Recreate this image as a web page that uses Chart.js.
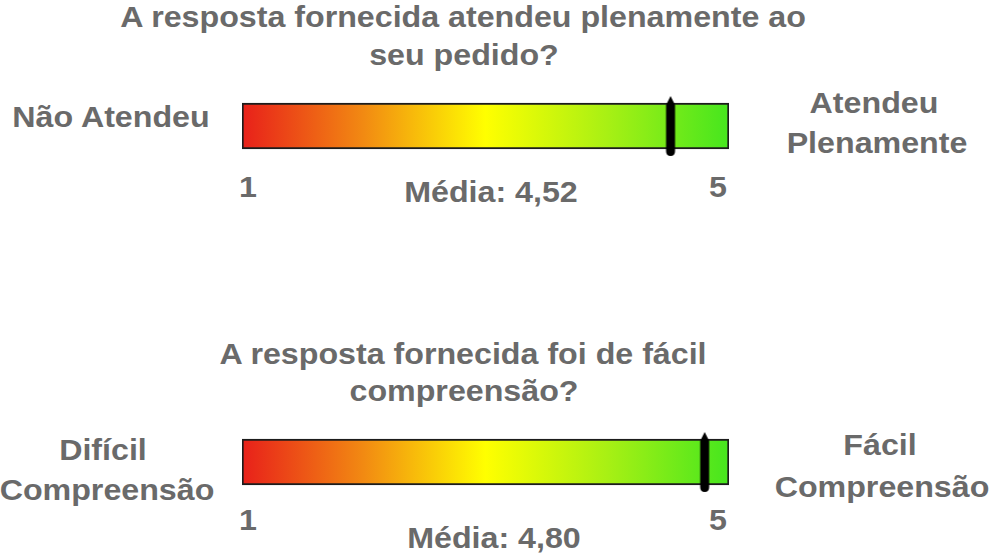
<!DOCTYPE html>
<html>
<head>
<meta charset="utf-8">
<script src="https://cdn.jsdelivr.net/npm/chart.js@4"></script>
<style>
  body { margin: 0; background: #fff; }
  #page { position: relative; width: 996px; height: 554px; overflow: hidden; font-family: "Liberation Sans", Arial, sans-serif; }
  .box { position: absolute; }
  .txt { position: absolute; white-space: nowrap; color: #6a6a6a; font-weight: bold; font-size: 29px; line-height: 29px; }
</style>
</head>
<body>
<div id="page"></div>
<script>
// Data
var titleLines = [
    ['A resposta fornecida atendeu plenamente ao', 'seu pedido?'],
    ['A resposta fornecida foi de fácil', 'compreensão?']
];
var lowLabels = [['Não Atendeu'], ['Difícil', 'Compreensão']];
var highLabels = [['Atendeu', 'Plenamente'], ['Fácil', 'Compreensão']];
var averages = [4.52, 4.80];
var scaleRange = [1, 5];
var tickLabels = ['1', '5'];

var page = document.getElementById('page');

// put a text line with its centre x and baseline y
function addText(str, cx, baseline) {
    var d = document.createElement('div');
    d.className = 'txt';
    d.textContent = str;
    d.style.left = cx + 'px';
    d.style.top = (baseline - 0.8305 * 29) + 'px';
    d.style.transform = 'translateX(-50%) scaleX(1.11)';
    page.appendChild(d);
}

// black marker with a small tip, used as point style
function makeMarker() {
    var c = document.createElement('canvas');
    c.width = 12; c.height = 60;
    var g = c.getContext('2d');
    g.fillStyle = '#000';
    g.beginPath();
    g.moveTo(6, 0);
    g.lineTo(10.5, 9);
    g.lineTo(10.5, 55);
    g.quadraticCurveTo(10.5, 60, 6, 60);
    g.quadraticCurveTo(1.5, 60, 1.5, 55);
    g.lineTo(1.5, 9);
    g.closePath();
    g.fill();
    return c;
}
var marker = makeMarker();

function gradientFill(context) {
    var area = context.chart.chartArea;
    if (!area) return '#ff0';
    var g = context.chart.ctx.createLinearGradient(area.left, 0, area.right, 0);
    g.addColorStop(0, '#e8201a');
    g.addColorStop(0.25, '#f28a12');
    g.addColorStop(0.5, '#ffff00');
    g.addColorStop(0.75, '#a8f014');
    g.addColorStop(1, '#46e61e');
    return g;
}

// vertical offset of each block
var offsets = [0, 336];

averages.forEach(function(avg, i) {
    var off = offsets[i];

    var box = document.createElement('div');
    box.className = 'box';
    box.style.left = '232px';
    box.style.top = (86 + off) + 'px';
    box.style.width = '507px';
    box.style.height = '80px';
    var cv = document.createElement('canvas');
    box.appendChild(cv);
    page.appendChild(box);

    new Chart(cv.getContext('2d'), {
        type: 'bar',
        data: {
            labels: [''],
            datasets: [{
                type: 'scatter',
                data: [{ x: avg, y: 0 }],
                pointStyle: marker,
                clip: false
            }, {
                data: [[scaleRange[0], scaleRange[1]]],
                backgroundColor: gradientFill,
                borderColor: '#1c1c1c',
                borderWidth: 2,
                borderSkipped: false,
                barThickness: 46
            }]
        },
        options: {
            indexAxis: 'y',
            responsive: true,
            maintainAspectRatio: false,
            animation: false,
            events: [],
            layout: { padding: { left: 10, right: 10, top: 0, bottom: 0 } },
            plugins: { legend: { display: false }, tooltip: { enabled: false }, title: { display: false } },
            scales: {
                x: { type: 'linear', min: scaleRange[0], max: scaleRange[1], display: false },
                y: { type: 'category', display: false }
            }
        }
    });

    // title
    addText(titleLines[i][0], 463, 27 + off + (i ? 1 : 0));
    addText(titleLines[i][1], 464, 65 + off);

    // side labels
    if (lowLabels[i].length === 1) {
        addText(lowLabels[i][0], 111, 127 + off);
    } else {
        addText(lowLabels[i][0], 103, 460);
        addText(lowLabels[i][1], 107, 500);
    }
    addText(highLabels[i][0], i ? 880 : 874, i ? 455 : 113);
    addText(highLabels[i][1], i ? 882 : 877, i ? 497 : 153);

    // scale ends and average
    addText(tickLabels[0], 248, i ? 530 : 197);
    addText(tickLabels[1], 718, i ? 530 : 197);
    addText('Média: ' + avg.toFixed(2).replace('.', ','), i ? 494 : 491, i ? 548 : 202);
});
</script>
</body>
</html>
